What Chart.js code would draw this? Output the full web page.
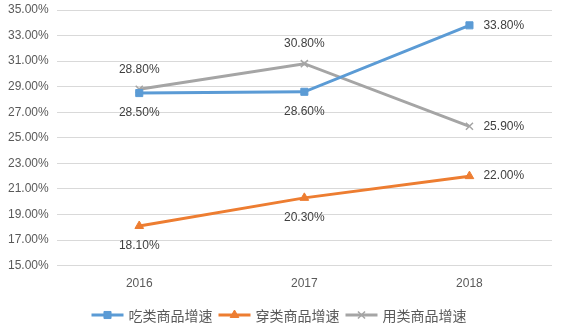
<!DOCTYPE html>
<html>
<head>
<meta charset="utf-8">
<script src="https://cdn.jsdelivr.net/npm/chart.js@4/dist/chart.umd.min.js"></script>
<style>
  html, body { margin: 0; padding: 0; background: #fff; }
  #wrap { width: 565px; height: 335px; position: relative; }
</style>
</head>
<body>
<div id="wrap"><canvas id="c" width="565" height="335"></canvas></div>
<script>
const years = ['2016', '2017', '2018'];
const eatGrowth = [28.5, 28.6, 33.8];
const wearGrowth = [18.1, 20.3, 22.0];
const useGrowth = [28.8, 30.8, 25.9];
const seriesNames = ['吃类商品增速', '穿类商品增速', '用类商品增速'];
const yTicksMin = 15, yTicksMax = 35, yTickStep = 2;

const FONT = '"Microsoft YaHei", "Noto Sans CJK SC", "DejaVu Sans", sans-serif';
const NUMFONT = '"Liberation Sans", Arial, sans-serif';

// where each series puts its value labels (last point always to the right)
const labelSide = ['below', 'below', 'above'];

const valueLabels = {
  id: 'valueLabels',
  afterDatasetsDraw(chart) {
    const ctx = chart.ctx;
    ctx.save();
    ctx.font = '12px ' + NUMFONT;
    ctx.fillStyle = '#404040';
    chart.data.datasets.forEach((ds, di) => {
      const meta = chart.getDatasetMeta(di);
      meta.data.forEach((pt, i) => {
        const txt = ds.data[i].toFixed(2) + '%';
        ctx.textBaseline = 'middle';
        if (i === ds.data.length - 1) {
          ctx.textAlign = 'left';
          ctx.fillText(txt, pt.x + 14, pt.y);
        } else {
          ctx.textAlign = 'center';
          const dy = labelSide[di] === 'below' ? 20 : -20;
          ctx.fillText(txt, pt.x, pt.y + dy);
        }
      });
    });
    ctx.restore();
  }
};

// legend: short line with the series marker, then the name, centred under the plot
const lineLegend = {
  id: 'lineLegend',
  afterDraw(chart) {
    const ctx = chart.ctx;
    const ds = chart.data.datasets;
    ctx.save();
    ctx.font = '14px ' + FONT;
    const y = 315, lineW = 34, gap = 4, itemGap = 5;
    const widths = ds.map(d => lineW + gap + ctx.measureText(d.label).width);
    const total = widths.reduce((a, b) => a + b, 0) + itemGap * (ds.length - 1);
    let x = (chart.width - total) / 2 - 4;
    ds.forEach((d, k) => {
      ctx.strokeStyle = d.borderColor;
      ctx.lineWidth = 3;
      ctx.beginPath();
      ctx.moveTo(x + 1, y);
      ctx.lineTo(x + lineW - 1, y);
      ctx.stroke();
      ctx.fillStyle = d.backgroundColor;
      ctx.strokeStyle = d.borderColor;
      ctx.lineWidth = d.pointBorderWidth;
      Chart.helpers.drawPoint(ctx, {
        pointStyle: d.pointStyle, radius: d.pointRadius,
        borderWidth: d.pointBorderWidth, rotation: 0
      }, x + lineW / 2, y);
      ctx.fillStyle = '#595959';
      ctx.textAlign = 'left';
      ctx.textBaseline = 'middle';
      ctx.fillText(d.label, x + lineW + gap, y + 1);
      x += widths[k] + itemGap;
    });
    ctx.restore();
  }
};

new Chart(document.getElementById('c'), {
  type: 'line',
  data: {
    labels: years,
    datasets: [
      {
        label: seriesNames[0], data: eatGrowth,
        borderColor: '#5b9bd5', backgroundColor: '#5b9bd5',
        borderWidth: 3, pointStyle: 'rect', pointRadius: 5,
        pointBorderWidth: 1, pointHoverRadius: 5
      },
      {
        label: seriesNames[1], data: wearGrowth,
        borderColor: '#ed7d31', backgroundColor: '#ed7d31',
        borderWidth: 3, pointStyle: 'triangle', pointRadius: 5,
        pointBorderWidth: 1, pointHoverRadius: 5
      },
      {
        label: seriesNames[2], data: useGrowth,
        borderColor: '#a5a5a5', backgroundColor: '#a5a5a5',
        borderWidth: 3, pointStyle: 'crossRot', pointRadius: 5,
        pointBorderWidth: 1.5, pointHoverRadius: 5
      }
    ]
  },
  options: {
    responsive: false,
    animation: false,
    events: [],
    layout: { padding: { left: 0, right: 13, top: 10, bottom: 41 } },
    plugins: {
      legend: { display: false },
      tooltip: { enabled: false }
    },
    elements: { line: { tension: 0 } },
    scales: {
      x: {
        offset: true,
        grid: { display: false },
        border: { display: false },
        ticks: { color: '#595959', font: { size: 12, family: NUMFONT }, padding: 3 }
      },
      y: {
        min: yTicksMin, max: yTicksMax,
        grid: { color: '#d9d9d9', lineWidth: 1, drawTicks: false },
        border: { display: false },
        // let the top tick label overhang the plot instead of pushing it down
        afterFit: s => { s.paddingTop = 0; },
        ticks: {
          stepSize: yTickStep,
          color: '#595959',
          font: { size: 12, family: NUMFONT },
          padding: 8,
          callback: v => v.toFixed(2) + '%'
        }
      }
    }
  },
  plugins: [valueLabels, lineLegend]
});
</script>
</body>
</html>
